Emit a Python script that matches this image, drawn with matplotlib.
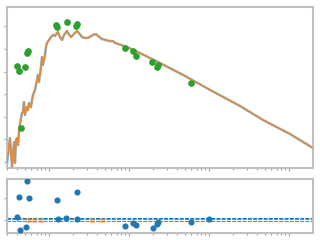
import matplotlib
matplotlib.use("Agg")
import matplotlib.pyplot as plt

# ── data ──────────────────────────────────────────────
freq = [0.299, 0.325, 0.345, 0.365, 0.376, 0.387, 0.398, 0.410, 0.425, 0.443,
        0.460, 0.473, 0.487, 0.501, 0.531, 0.546, 0.562, 0.596, 0.613, 0.631,
        0.668, 0.708, 0.729, 0.750, 0.794, 0.818, 0.841, 0.891, 0.917, 0.944,
        1.0, 1.059, 1.122, 1.189, 1.259, 1.296, 1.372, 1.454, 1.540, 1.679,
        1.728, 1.884, 1.995, 2.175, 2.239, 2.371, 2.585, 2.818, 3.072, 3.548,
        3.868, 4.097, 4.597, 5.788, 6.310, 6.683, 9.441, 13.72, 24.40, 50.12,
        102.9, 244.0, 473.2, 1029.0, 1995.0]
power = [-0.04, 1.06, -0.22, 0.88, -0.04, 0.97, 1.06, 0.75, 1.50, 1.86,
         2.17, 2.21, 2.65, 2.08, 2.43, 2.30, 2.61, 2.43, 2.74, 2.96,
         3.19, 3.63, 3.85, 3.54, 4.20, 4.65, 4.29, 4.73, 5.09, 5.27,
         5.40, 5.53, 5.62, 5.58, 5.71, 5.75, 5.53, 5.40, 5.62, 5.80,
         5.71, 5.53, 5.62, 5.75, 5.80, 5.71, 5.53, 5.49, 5.49, 5.62,
         5.66, 5.58, 5.44, 5.35, 5.35, 5.27, 5.09, 4.82, 4.38, 3.81,
         3.19, 2.48, 1.86, 1.24, 0.62]

pts_x = [0.398, 0.422, 0.447, 0.501, 0.531, 0.546, 1.223, 1.259, 1.679,
         2.175, 2.239, 8.91, 11.2, 12.2, 19.4, 23.0, 22.4, 59.6]
pts_y = [4.25, 4.03, 1.50, 4.20, 4.82, 4.91, 6.06, 5.97, 6.19,
         6.02, 6.11, 5.04, 4.91, 4.69, 4.42, 4.29, 4.20, 3.50]

res_x = [0.398, 0.422, 0.434, 0.516, 0.531, 0.562, 1.259, 1.296, 1.631,
         2.239, 2.239, 8.91, 11.2, 12.2, 19.95, 22.4, 23.0, 59.6, 100.0]
res_y = [0.14, 1.05, -0.45, -0.32, 1.77, 1.00, 0.91, 0.05, 0.09,
         1.27, 0.05, -0.27, -0.14, -0.23, -0.36, -0.18, -0.09, -0.09, 0.05]

masked_x = [0.546, 0.649, 0.794, 3.45, 4.60]
masked_y = [0, 0, 0, 0, 0]

BLUE = "#1f77b4"
ORANGE = "#ff7f0e"
GREEN = "#2ca02c"
SPINE = "#c0c0c0"

fig = plt.figure(figsize=(3.2, 2.4), dpi=100)
ax1 = fig.add_axes([0.022, 0.30, 0.956, 0.671])
ax2 = fig.add_axes([0.022, 0.029, 0.956, 0.225])

for ax in (ax1, ax2):
    ax.set_xscale("log")
    ax.set_xlim(0.299, 1995)
    for s in ax.spines.values():
        s.set_color(SPINE)
        s.set_linewidth(1.5)
    ax.tick_params(which="both", length=2, width=0.8, color="#a0a0a0",
                   labelbottom=False, labelleft=False)
    ax.tick_params(which="minor", length=1.5)

# spectrum
ax1.plot(freq, power, color=BLUE, lw=1.8, alpha=0.55, zorder=2)
ax1.plot(freq, power, color=ORANGE, lw=1.0, alpha=0.85, zorder=3)
ax1.plot(pts_x, pts_y, "o", color=GREEN, ms=3.8, zorder=4)
ax1.set_ylim(-0.265, 6.86)
ax1.set_yticks(range(7))

# residuals
ax2.axhline(0, color=BLUE, lw=2.9, dashes=(1, 0.3), zorder=1)
ax2.axhline(0, color="white", lw=1.0, zorder=2)
ax2.plot(masked_x, masked_y, "s", color=ORANGE, alpha=0.35, ms=3.2, zorder=3)
ax2.plot(res_x, res_y, "o", color=BLUE, ms=3.4, zorder=4)
ax2.set_ylim(-0.59, 1.86)
ax2.set_yticks([0, 1])

fig.savefig("out.png", dpi=100)
